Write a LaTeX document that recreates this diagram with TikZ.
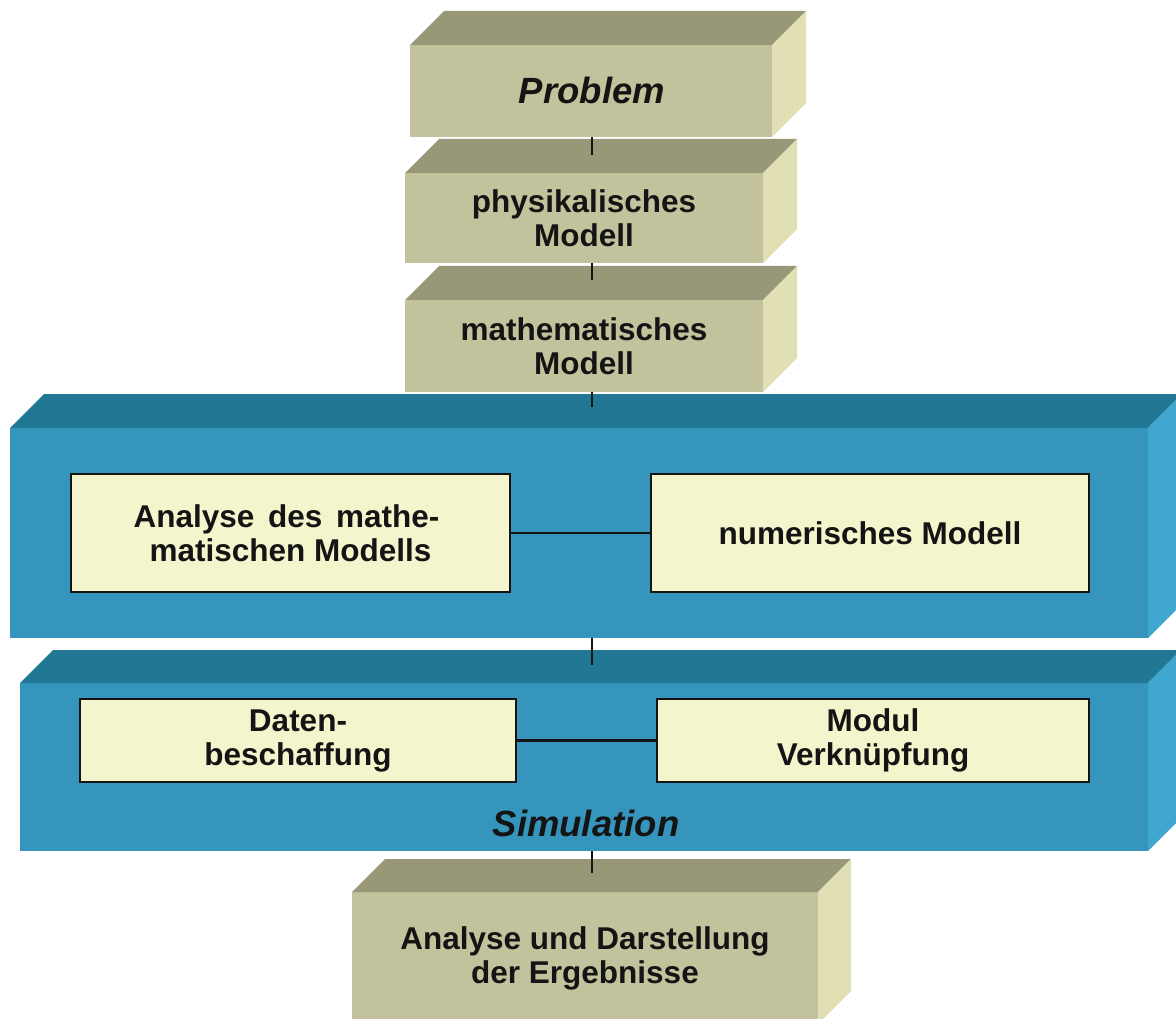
\documentclass[tikz,border=0pt]{standalone}
\usepackage{fontspec}
\setmainfont{Liberation Sans}
\definecolor{khakiF}{HTML}{C2C39D}
\definecolor{khakiT}{HTML}{989878}
\definecolor{khakiS}{HTML}{E0E0B4}
\definecolor{blueF}{HTML}{3595BC}
\definecolor{blueT}{HTML}{217895}
\definecolor{blueS}{HTML}{3EA6CF}
\definecolor{cream}{HTML}{F5F5CD}
\definecolor{ink}{HTML}{141414}
% top and right faces of a block whose front face is node #1
\newcommand\blockfaces[4]{%
  \fill[#3] (#1.north west) -- ++(#2,-#2) -- ([shift={(#2,-#2)}]#1.north east) -- (#1.north east) -- cycle;
  \fill[#4] (#1.north east) -- ++(#2,-#2) -- ([shift={(#2,-#2)}]#1.south east) -- (#1.south east) -- cycle;}
\begin{document}
\begin{tikzpicture}[x=1pt,y=-1pt,
  face/.style={outer sep=0pt, inner sep=0pt, align=center, text=ink,
    font=\fontsize{31.5}{34}\selectfont\bfseries},
  slab/.style={face, fill=khakiF},
  tray/.style={face, fill=blueF},
  sub/.style={face, fill=cream, draw=ink, line width=2.8pt},
  title/.style={face, font=\fontsize{36.5}{40}\selectfont\bfseries\itshape},
  link/.style={draw=ink, line width=2.6pt}]
\useasboundingbox (0,0) rectangle (1176,1019);
\clip (0,0) rectangle (1176,1019);

% upper chain of blocks
\node[slab, minimum width=362, minimum height=92] (prob) at (591,91) {};
\blockfaces{prob}{34}{khakiT}{khakiS}
\node[title] (problabel) at (592,90) {Problem};

\node[slab, minimum width=358, minimum height=90] (phys) at (584,218) {physikalisches\\Modell};
\blockfaces{phys}{34}{khakiT}{khakiS}

\node[slab, minimum width=358, minimum height=92] (math) at (584,346) {mathematisches\\Modell};
\blockfaces{math}{34}{khakiT}{khakiS}

% numerics tray
\node[tray, minimum width=1138, minimum height=210] (num) at (579,533) {};
\blockfaces{num}{34}{blueT}{blueS}
\node[sub, minimum width=439, minimum height=118] (ana) at (290.5,533)
  {Analyse\hspace{5pt} des\hspace{5pt} mathe-\hspace*{8pt}\\matischen Modells};
\node[sub, minimum width=438, minimum height=118] (nmod) at (870,533) {numerisches Modell};
\draw[link] (ana) -- (nmod);

% simulation tray
\node[tray, minimum width=1128, minimum height=168] (sim) at (584,767) {};
\blockfaces{sim}{33}{blueT}{blueS}
\node[sub, minimum width=436, minimum height=83] (dat) at (298,740.5) {Daten-\\beschaffung};
\node[sub, minimum width=432, minimum height=83] (mod) at (873,740.5) {Modul\\Verknüpfung};
\draw[link] (dat) -- (mod);
\node[title] (simlabel) at (586,823) {Simulation};

% results block
\node[slab, minimum width=466, minimum height=132] (res) at (585,958) {Analyse und Darstellung\\der Ergebnisse};
\blockfaces{res}{33}{khakiT}{khakiS}

% vertical links between the stages
\coordinate (j1) at (592,155);
\coordinate (j2) at (592,280);
\coordinate (j3) at (592,407);
\coordinate (j4) at (592,665);
\coordinate (j5) at (592,873);
\draw[link] (j1 |- prob.south) -- (j1);
\draw[link] (j2 |- phys.south) -- (j2);
\draw[link] (j3 |- math.south) -- (j3);
\draw[link] (j4 |- num.south) -- (j4);
\draw[link] (j5 |- sim.south) -- (j5);
\end{tikzpicture}
\end{document}
